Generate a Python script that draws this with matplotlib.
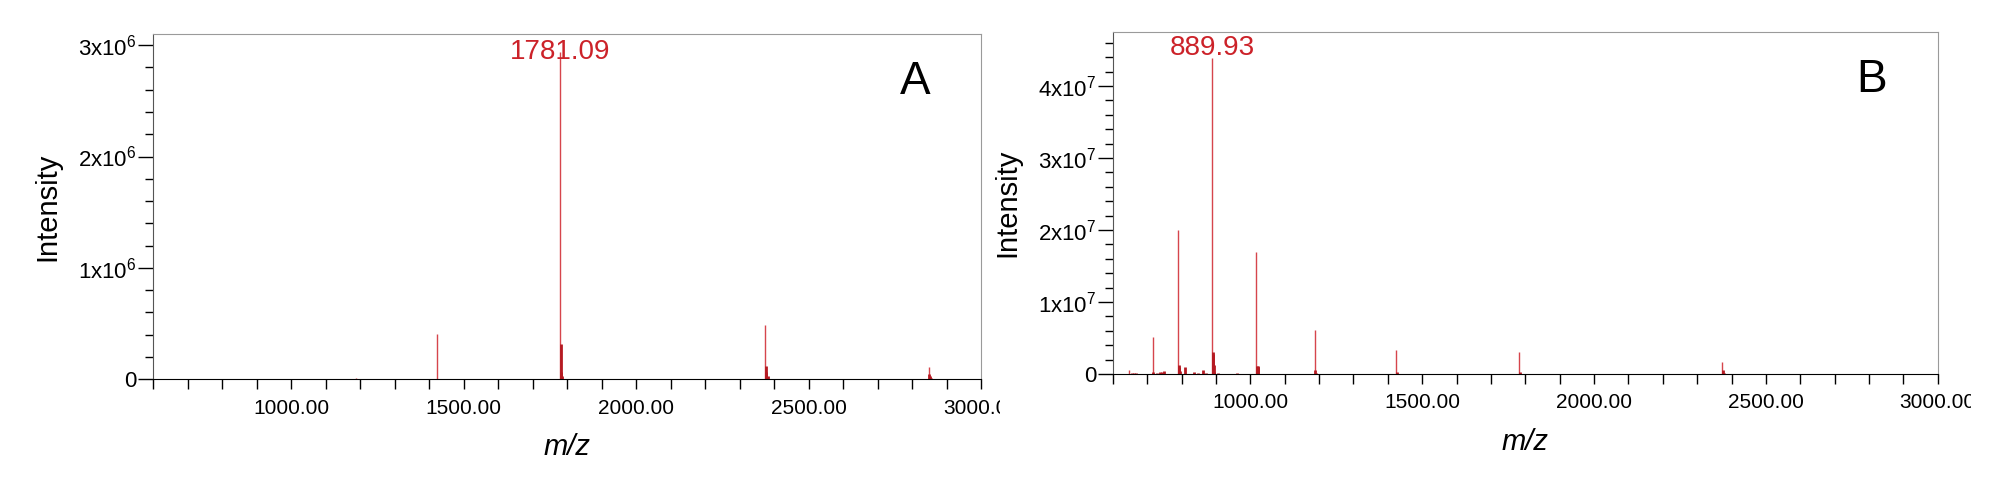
import matplotlib
matplotlib.use("Agg")
import matplotlib.pyplot as plt
from matplotlib.ticker import MultipleLocator, FuncFormatter
from matplotlib.transforms import Bbox

plt.rcParams['font.family'] = ['Liberation Sans', 'DejaVu Sans']
plt.rcParams['mathtext.fontset'] = 'custom'
plt.rcParams['mathtext.rm'] = 'Liberation Sans'

# panel A: main peaks (thin lines) and isotope clusters (thick stubs)
peaks_a_mz = [1188, 1424, 1781.09, 2374, 2849]
peaks_a_int = [0.01e6, 0.41e6, 2.94e6, 0.49e6, 0.11e6]
clust_a_mz = [1782.3, 1783.5, 1785, 2375.5, 2378, 2383, 2850.5, 2853, 2856]
clust_a_int = [0.32e6, 0.07e6, 0.03e6, 0.12e6, 0.07e6, 0.03e6, 0.05e6, 0.03e6, 0.01e6]

# panel B
peaks_b_mz = [647, 716.8, 791, 889.93, 1017.4, 1187.8, 1423.7, 1781.7, 2372.6]
peaks_b_int = [0.05e7, 0.51e7, 2.0e7, 4.39e7, 1.69e7, 0.61e7, 0.33e7, 0.31e7, 0.17e7]
clust_b_mz = [655, 662, 668, 718, 730, 738, 744, 748, 792, 793.5, 795, 811, 837, 847, 862, 871,
              890.6, 891.8, 893, 895, 906, 960, 1019, 1021, 1023, 1189.5, 1191, 1425.5, 1783.2, 2374.5, 2377]
clust_b_int = [0.02e7, 0.01e7, 0.01e7, 0.03e7, 0.02e7, 0.03e7, 0.03e7, 0.04e7, 0.13e7, 0.09e7, 0.04e7,
               0.09e7, 0.03e7, 0.02e7, 0.05e7, 0.01e7, 0.30e7, 0.28e7, 0.12e7, 0.03e7, 0.02e7, 0.01e7,
               0.11e7, 0.11e7, 0.10e7, 0.05e7, 0.02e7, 0.03e7, 0.03e7, 0.05e7, 0.02e7]

labels = ["A", "B"]
top_labels = [("1781.09", 1781.09, 2.94e6, 0), ("889.93", 889.93, 4.39e7, 7)]
exps = [6, 7]
ylims = [3.10e6, 4.745e7]
ymajor = [1e6, 1e7]
clip_right = [1000, 1971]

fig = plt.figure(figsize=(20, 4.86), dpi=100)
ax_a = fig.add_axes([0.0765, 0.2195, 0.414, 0.7105])
ax_b = fig.add_axes([0.5564, 0.2305, 0.4125, 0.703])

data = [(peaks_a_mz, peaks_a_int, clust_a_mz, clust_a_int),
        (peaks_b_mz, peaks_b_int, clust_b_mz, clust_b_int)]

for i, ax in enumerate([ax_a, ax_b]):
    pm, pi, cm, ci = data[i]
    ax.vlines(pm, 0, pi, color='#d6454c', lw=1.0)
    ax.vlines(cm, 0, ci, color='#b51a22', lw=2.0)

    ax.set_xlim(600, 3000)
    ax.set_ylim(0, ylims[i])

    ax.xaxis.set_major_locator(MultipleLocator(500))
    ax.xaxis.set_minor_locator(MultipleLocator(100))
    ax.xaxis.set_major_formatter(FuncFormatter(lambda v, p: "%.2f" % v))
    ax.yaxis.set_major_locator(MultipleLocator(ymajor[i]))
    ax.yaxis.set_minor_locator(MultipleLocator(ymajor[i] / 5))
    e = exps[i]
    ax.yaxis.set_major_formatter(FuncFormatter(
        lambda v, p, e=e: "0" if v == 0 else "%dx10$^{%d}$" % (round(v / 10 ** e), e)))

    ax.tick_params(axis='x', which='both', direction='out', length=7, width=1, pad=7, labelsize=15)
    ax.tick_params(axis='y', which='major', direction='out', length=11, width=1, pad=1, labelsize=16)
    ax.tick_params(axis='y', which='minor', direction='out', length=6, width=1)

    for s in ['top', 'right']:
        ax.spines[s].set_color('#9a9a9a')
    ax.spines['left'].set_color('#555555')
    ax.spines['bottom'].set_color('black')

    ax.set_ylabel("Intensity", fontsize=21, labelpad=12)
    ax.set_xlabel("m/z", fontsize=21, style='italic', labelpad=11)

    txt, x, y, off = top_labels[i]
    ax.annotate(txt, (x, y), xytext=(0, off), textcoords='offset points',
                ha='center', va='center', color='#cc2229', fontsize=20)
    ax.text(0.92, 0.86, labels[i], transform=ax.transAxes, ha='center', va='center', fontsize=33)

# right-most tick label is cut by the panel edge in the original
fig.canvas.draw()
for i, ax in enumerate([ax_a, ax_b]):
    box = Bbox([[0, 0], [clip_right[i], 486]])
    for lab in ax.get_xticklabels():
        lab.set_clip_box(box)
        lab.set_clip_on(True)

fig.savefig("out.png", dpi=100)
